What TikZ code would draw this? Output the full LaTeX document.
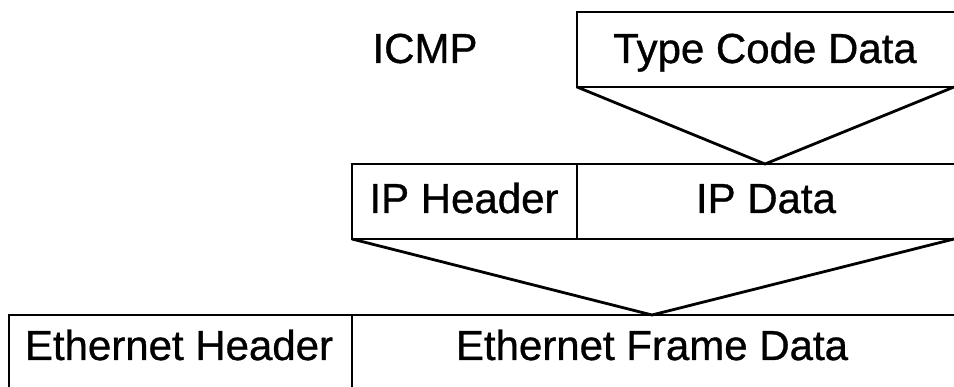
\documentclass[tikz,border=0pt]{standalone}
\usepackage{fontspec}
\setmainfont{Liberation Sans}
\newfontfamily\scanfont[FakeBold=0.8]{Liberation Sans}
\begin{document}
\begin{tikzpicture}[x=1pt,y=-1pt,
  lbl/.style={font=\scanfont\fontsize{42}{42}\selectfont, inner sep=0pt, anchor=base},
  edge/.style={line width=2.8pt, line join=miter, black}]
\useasboundingbox (0,0) rectangle (954,387);
% coordinates
\coordinate (tTL) at (577,12);
\coordinate (tTR) at (954,12);
\coordinate (tBL) at (577,87);
\coordinate (tBR) at (954,87);
\coordinate (mTL) at (352,164);
\coordinate (mTR) at (954,164);
\coordinate (mBL) at (352,239);
\coordinate (mBR) at (954,239);
\coordinate (mDT) at (577,164);
\coordinate (mDB) at (577,239);
\coordinate (apx1) at (765,164);
\coordinate (bTL) at (9,315);
\coordinate (bTR) at (954,315);
\coordinate (bBL) at (9,387);
\coordinate (bDT) at (352,315);
\coordinate (bDB) at (352,387);
\coordinate (apx2) at (652,315);
% top box (open at right)
\draw[edge] (tTR) -- (tTL) -- (tBL) -- (tBR);
\draw[edge] (tBL) -- (apx1) -- (tBR);
% middle boxes
\draw[edge] (mTR) -- (mTL) -- (mBL) -- (mBR);
\draw[edge] (mDT) -- (mDB);
\draw[edge] (mBL) -- (apx2) -- (mBR);
% bottom boxes
\draw[edge] (bBL) -- (bTL) -- (bTR);
\draw[edge] (bDT) -- (bDB);
% labels
\node[lbl] (icmp) at (425,63) {ICMP};
\node[lbl] (tcd) at (765,63) {Type Code Data};
\node[lbl] (iph) at (464,213) {IP Header};
\node[lbl] (ipd) at (766,213) {IP Data};
\node[lbl] (eth) at (179,360) {Ethernet Header};
\node[lbl] (efd) at (652,360) {Ethernet Frame Data};
\end{tikzpicture}
\end{document}
